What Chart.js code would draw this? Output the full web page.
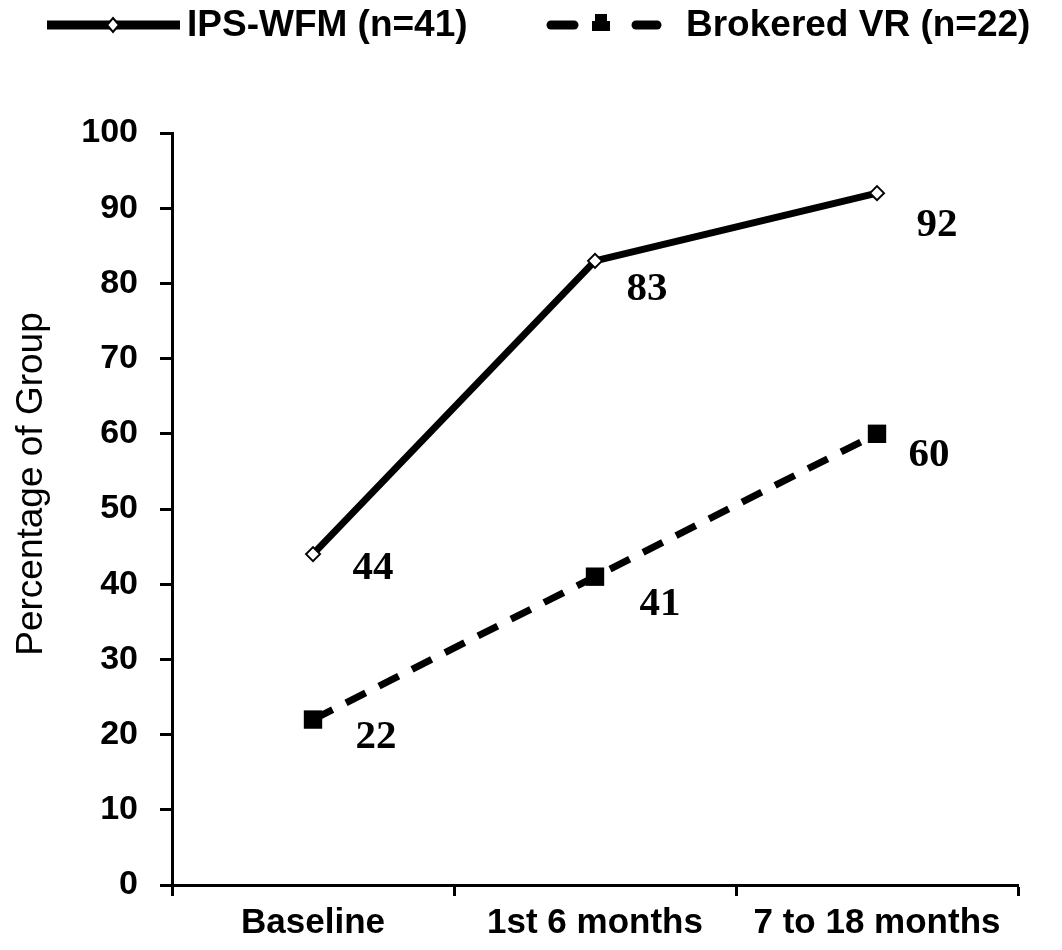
<!DOCTYPE html>
<html>
<head>
<meta charset="utf-8">
<script src="https://cdn.jsdelivr.net/npm/chart.js@4.4.1/dist/chart.umd.min.js"></script>
<style>
  html, body { margin: 0; padding: 0; background: #fff; }
  #wrap { width: 1062px; height: 950px; position: relative; }
</style>
</head>
<body>
<div id="wrap"><canvas id="chart"></canvas></div>
<script>
// ── DATA ─────────────────────────────────────────────────────────────────────
const categories   = ['Baseline', '1st 6 months', '7 to 18 months'];
const ipsWfm       = [44, 83, 92];
const brokeredVr   = [22, 41, 60];
const seriesNames  = ['IPS-WFM (n=41)', 'Brokered VR (n=22)'];
const yTicks       = [0, 10, 20, 30, 40, 50, 60, 70, 80, 90, 100];
const yTitle       = 'Percentage of Group';

const SANS  = "'Liberation Sans', Arial, sans-serif";
const SERIF = "'Liberation Serif', 'Times New Roman', serif";

// value labels sit below-right of each point (pixel offsets)
const labelOffsets = [
  [[60, 14], [52, 29], [60, 32]],
  [[63, 18], [65, 28], [52, 22]],
];

// ── plugins ──────────────────────────────────────────────────────────────────
const valueLabels = {
  id: 'valueLabels',
  afterDatasetsDraw(chart) {
    const ctx = chart.ctx;
    ctx.save();
    ctx.font = 'bold 41px ' + SERIF;
    ctx.fillStyle = '#000';
    ctx.textAlign = 'center';
    ctx.textBaseline = 'middle';
    chart.data.datasets.forEach((ds, di) => {
      chart.getDatasetMeta(di).data.forEach((pt, i) => {
        const [dx, dy] = labelOffsets[di][i];
        ctx.fillText(String(ds.data[i]), pt.x + dx, pt.y + dy);
      });
    });
    ctx.restore();
  }
};

// legend across the top + rotated y title
const extras = {
  id: 'extras',
  afterDraw(chart) {
    const ctx = chart.ctx;
    const y = 25;
    ctx.save();
    // solid series
    ctx.strokeStyle = '#000';
    ctx.lineWidth = 9;
    ctx.beginPath(); ctx.moveTo(47, y); ctx.lineTo(180, y); ctx.stroke();
    ctx.fillStyle = '#fff';
    ctx.lineWidth = 2;
    ctx.beginPath();
    ctx.moveTo(113, y - 7); ctx.lineTo(119, y); ctx.lineTo(113, y + 7); ctx.lineTo(107, y);
    ctx.closePath(); ctx.fill(); ctx.stroke();
    // dashed series
    ctx.lineWidth = 9;
    ctx.lineCap = 'round';
    ctx.beginPath(); ctx.moveTo(551, y); ctx.lineTo(574, y); ctx.stroke();
    ctx.beginPath(); ctx.moveTo(636, y); ctx.lineTo(657, y); ctx.stroke();
    ctx.lineCap = 'butt';
    ctx.fillStyle = '#000';
    ctx.fillRect(595, y - 11, 12, 8);
    ctx.fillRect(592, y - 4, 18, 10);
    // texts
    ctx.font = 'bold 37px ' + SANS;
    ctx.textAlign = 'left';
    ctx.textBaseline = 'middle';
    ctx.fillText(seriesNames[0], 187, y + 1);
    ctx.fillText(seriesNames[1], 686, y + 1);
    // y axis title
    ctx.translate(42, 484);
    ctx.rotate(-Math.PI / 2);
    ctx.font = '37px ' + SANS;
    ctx.textAlign = 'center';
    ctx.textBaseline = 'alphabetic';
    ctx.fillText(yTitle, 0, 0);
    ctx.restore();
  }
};

// ── chart ────────────────────────────────────────────────────────────────────
const ctx = document.getElementById('chart').getContext('2d');
new Chart(ctx, {
  type: 'line',
  data: {
    labels: categories,
    datasets: [
      {
        label: seriesNames[0],
        data: ipsWfm,
        borderColor: '#000',
        borderWidth: 7,
        pointStyle: 'rectRot',
        pointRadius: 7,
        pointBorderWidth: 2,
        pointBackgroundColor: '#fff',
        pointBorderColor: '#000',
        tension: 0
      },
      {
        label: seriesNames[1],
        data: brokeredVr,
        borderColor: '#000',
        borderWidth: 7,
        borderDash: [22, 15],
        pointStyle: 'rect',
        pointRadius: 13,
        pointBorderWidth: 0,
        pointBackgroundColor: '#000',
        pointBorderColor: '#000',
        tension: 0
      }
    ]
  },
  options: {
    responsive: true,
    maintainAspectRatio: false,
    animation: false,
    layout: { padding: { top: 133, right: 44, bottom: 0, left: 0 } },
    plugins: { legend: { display: false }, tooltip: { enabled: false } },
    scales: {
      x: {
        type: 'category',
        offset: true,
        grid: { offset: true, drawOnChartArea: false, drawTicks: true, tickLength: 11, tickWidth: 3, color: '#000' },
        border: { display: true, color: '#000', width: 3 },
        ticks: { color: '#000', font: { family: SANS, size: 35, weight: 'bold' }, padding: 6, maxRotation: 0, autoSkip: false },
        afterFit(scale) { scale.height = 950 - 885; }
      },
      y: {
        min: 0,
        max: 100,
        afterBuildTicks(scale) { scale.ticks = yTicks.map(v => ({ value: v })); },
        grid: { drawOnChartArea: false, drawTicks: true, tickLength: 12, tickWidth: 3, color: '#000' },
        border: { display: true, color: '#000', width: 3 },
        ticks: { color: '#000', font: { family: SANS, size: 34, weight: 'bold' }, padding: 22 },
        afterFit(scale) { scale.width = 172; }
      }
    }
  },
  plugins: [valueLabels, extras]
});
</script>
</body>
</html>
